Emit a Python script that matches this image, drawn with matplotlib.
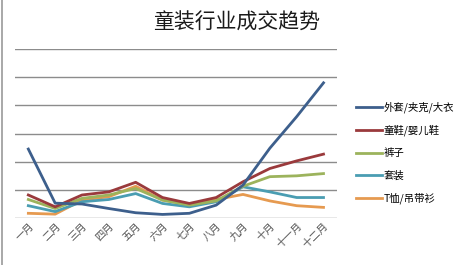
import matplotlib
matplotlib.use("Agg")
import matplotlib.pyplot as plt
from matplotlib.lines import Line2D

plt.rcParams['font.family'] = ['Noto Sans CJK SC', 'DejaVu Sans']

months = ["一月", "二月", "三月", "四月", "五月", "六月",
          "七月", "八月", "九月", "十月", "十一月", "十二月"]

coats = [2.45, 0.53, 0.50, 0.34, 0.19, 0.13, 0.17, 0.46, 1.17, 2.48, 3.60, 4.80]
shoes = [0.82, 0.40, 0.82, 0.93, 1.27, 0.73, 0.52, 0.73, 1.29, 1.76, 2.03, 2.27]
pants = [0.66, 0.34, 0.70, 0.82, 1.05, 0.64, 0.46, 0.61, 1.13, 1.47, 1.50, 1.58]
suits = [0.44, 0.23, 0.58, 0.66, 0.87, 0.52, 0.40, 0.58, 1.11, 0.93, 0.73, 0.73]
tees = [0.17, 0.14, 0.64, 0.76, 1.13, 0.64, 0.49, 0.66, 0.84, 0.61, 0.44, 0.38]

names = ["外套/夹克/大衣", "童鞋/婴儿鞋", "裤子", "套装", "T恤/吊带衫"]
colors = ["#3D5F8C", "#9A3A3C", "#9CB35C", "#4A9DB2", "#E69A50"]
series = [coats, shoes, pants, suits, tees]

fig = plt.figure(figsize=(4.66, 2.65), dpi=100)
ax = fig.add_axes([0.032, 0.177, 0.691, 0.638])

x = list(range(len(months)))
# draw in reverse so the coat line sits on top like the original
for vals, c in reversed(list(zip(series, colors))):
    ax.plot(x, vals, color=c, lw=2.0, solid_joinstyle='round')

ax.set_xlim(-0.5, len(months) - 0.5)
ax.set_ylim(0, 6)
ax.set_yticks(range(0, 7))
ax.yaxis.grid(True, color="#8c8c8c", lw=1)
ax.set_axisbelow(True)
ax.tick_params(axis='y', length=0, labelleft=False)
ax.tick_params(axis='x', length=0, pad=2)
ax.set_xticks(x)
ax.set_xticklabels(months, rotation=45, ha='right', va='top',
                   rotation_mode='anchor', fontsize=7.5, color="#555555")
for s in ax.spines.values():
    s.set_visible(False)

fig.text(0.508, 0.915, "童装行业成交趋势", ha='center', va='center',
         fontsize=15, fontweight='medium', color="#1a1a1a")

handles = [Line2D([0], [0], color=c, lw=2) for c in colors]
fig.legend(handles, names, loc='upper left', bbox_to_anchor=(0.752, 0.637),
           frameon=False, fontsize=7.5, handlelength=2.5, handletextpad=0.2,
           labelspacing=1.15, borderpad=0)

# left border of the original frame
fig.add_artist(Line2D([0.004, 0.004], [0, 1], color="#999999", lw=1.2,
                      transform=fig.transFigure))

fig.savefig("out.png", dpi=100)
